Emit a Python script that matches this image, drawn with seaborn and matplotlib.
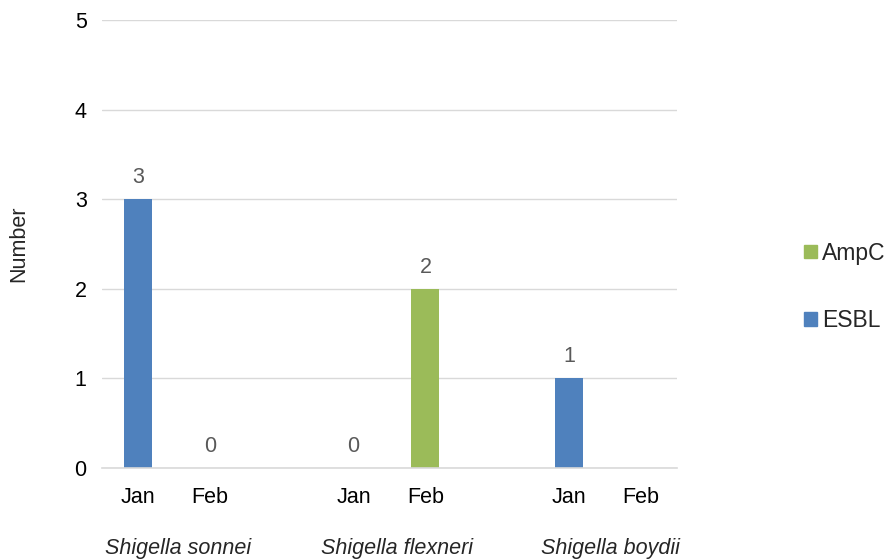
import numpy as np
import pandas as pd
import matplotlib
matplotlib.use("Agg")
import matplotlib.pyplot as plt
from matplotlib.patches import Patch
import seaborn as sns

# Category slots (blank slots separate the species groups)
slots = ["sonnei_Jan", "sonnei_Feb", "gap1", "flexneri_Jan", "flexneri_Feb",
         "gap2", "boydii_Jan", "boydii_Feb"]
month_labels = ["Jan", "Feb", "", "Jan", "Feb", "", "Jan", "Feb"]
species = ["Shigella sonnei", "Shigella flexneri", "Shigella boydii"]

esbl = [3, 0, np.nan, 0, 0, np.nan, 1, np.nan]
ampc = [0, 0, np.nan, 0, 2, np.nan, 0, np.nan]
totals = [3, 0, np.nan, 0, 2, np.nan, 1, np.nan]

colors = {"AmpC": "#9BBB59", "ESBL": "#4F81BD"}

rows = []
for s, e, a in zip(slots, esbl, ampc):
    if not np.isnan(e):
        rows.append({"slot": s, "type": "ESBL", "n": e})
        rows.append({"slot": s, "type": "AmpC", "n": a})
df = pd.DataFrame(rows)

sns.set_style("white")
plt.rcParams["font.family"] = ["Liberation Sans", "DejaVu Sans"]

FS = 15.5

fig = plt.figure(figsize=(8.89, 5.6), dpi=100)
ax = fig.add_axes([102 / 889, 1 - 468 / 560, 575 / 889, 448 / 560])

sns.barplot(data=df, x="slot", y="n", hue="type", order=slots,
            hue_order=["AmpC", "ESBL"], palette=colors, dodge=False,
            width=0.39, ax=ax, legend=False, linewidth=0, errorbar=None,
            saturation=1)

ax.set_xlim(-0.5, len(slots) - 0.5)
ax.set_ylim(0, 5)
ax.set_yticks(range(0, 6))
ax.yaxis.grid(True, color="#D9D9D9", linewidth=1)
ax.set_axisbelow(True)
for side in ["top", "right", "left"]:
    ax.spines[side].set_visible(False)
ax.spines["bottom"].set_color("#D9D9D9")
ax.spines["bottom"].set_linewidth(1.2)

ax.set_xticks(range(len(slots)))
ax.set_xticklabels(month_labels, fontsize=FS, color="#000000")
ax.tick_params(axis="x", length=0, pad=14)
ax.set_xticks([-0.5, 1.5, 3.5, 5.5, 7.5], minor=True)
ax.tick_params(axis="x", which="minor", direction="in", length=6,
               color="#D9D9D9", width=1.2)
ax.tick_params(axis="y", length=0, labelsize=FS, pad=11, labelcolor="#000000")
ax.set_xlabel("")
ax.set_ylabel("Number", fontsize=FS)
ax.yaxis.set_label_coords(-73 / 575, 0.5)

# Value labels above bars
for i, t in enumerate(totals):
    if not np.isnan(t):
        ax.annotate(f"{int(t)}", (i, t), xytext=(0, 8), textcoords="offset points",
                    ha="center", va="bottom", fontsize=FS, color="#595959")

# Species group labels
for name, xc in zip(species, [0.56, 3.60, 6.57]):
    ax.text(xc, -0.9, name, transform=ax.transData, ha="center", va="center",
            fontsize=FS, style="italic", clip_on=False)

# Legend
handles = [Patch(color=colors["AmpC"], label="AmpC"),
           Patch(color=colors["ESBL"], label="ESBL")]
fig.legend(handles=handles, loc="center left", bbox_to_anchor=(804 / 889, 1 - 287 / 560),
           frameon=False, fontsize=16.5, handlelength=0.55, handleheight=0.55,
           handletextpad=0.25, labelspacing=1.95, borderpad=0, borderaxespad=0)

fig.savefig("out.png", dpi=100)
